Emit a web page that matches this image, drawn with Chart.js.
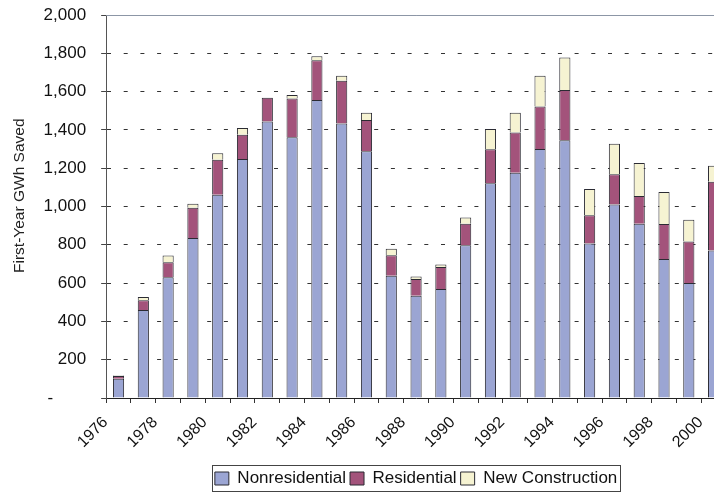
<!DOCTYPE html>
<html><head><meta charset="utf-8">
<script src="https://cdn.jsdelivr.net/npm/chart.js@4.4.1/dist/chart.umd.min.js"></script>
<style>
html,body{margin:0;padding:0;overflow:hidden;background:#fff;width:714px;height:493px}
#wrap{position:absolute;left:0;top:0;width:732px;height:493px}
</style></head><body>
<div id="wrap"><canvas id="c" width="732" height="493"></canvas></div>
<script>
const years = ['1976','1977','1978','1979','1980','1981','1982','1983','1984','1985','1986','1987','1988','1989','1990','1991','1992','1993','1994','1995','1996','1997','1998','1999','2000'];
const nonresidential = [100,459,630,835,1062,1248,1444,1362,1556,1433,1288,639,534,569,798,1122,1176,1300,1346,807,1010,910,726,601,770];
const residential = [15,52,79,159,182,127,124,202,208,224,164,106,87,115,112,177,210,222,262,147,158,145,182,216,359];
const newConstruction = [3,17,35,21,34,35,0,18,21,26,37,34,14,13,32,106,103,161,170,138,160,172,168,114,84];
const yTicks = [0,200,400,600,800,1000,1200,1400,1600,1800,2000];

Chart.defaults.font.family = "'Liberation Sans', Arial, Helvetica, sans-serif";

const topLine = {
  id: 'topLine',
  afterDraw(chart) {
    const {ctx, chartArea} = chart;
    const y = Math.round(chart.scales.y.getPixelForValue(2000)) + 0.5;
    ctx.save();
    ctx.strokeStyle = '#8c96a6';
    ctx.lineWidth = 1;
    ctx.beginPath();
    ctx.moveTo(chartArea.left, y);
    ctx.lineTo(chartArea.right, y);
    ctx.stroke();
    ctx.restore();
  }
};
const legendBorder = {
  id: 'legendBorder',
  afterDraw(chart) {
    const hb = chart.legend && chart.legend.legendHitBoxes;
    if (!hb || !hb.length) return;
    let l = Infinity, r = -Infinity, t = Infinity, b = -Infinity;
    hb.forEach(h => { l = Math.min(l, h.left); r = Math.max(r, h.left + h.width); t = Math.min(t, h.top); b = Math.max(b, h.top + h.height); });
    const ctx = chart.ctx;
    ctx.save();
    ctx.strokeStyle = '#444';
    ctx.lineWidth = 1;
    const top = Math.round(t - 5) + 0.5;
    ctx.strokeRect(Math.round(l - 3) + 0.5, top, Math.round(r - l + 6), 26);
    ctx.restore();
  }
};

new Chart(document.getElementById('c'), {
  type: 'bar',
  data: {
    labels: years,
    datasets: [
      {label: 'Nonresidential', data: nonresidential, backgroundColor: '#9ba5d3', borderColor: '#2b2b33', borderWidth: 1},
      {label: 'Residential', data: residential, backgroundColor: '#a3537b', borderColor: '#2b2b33', borderWidth: 1},
      {label: 'New Construction', data: newConstruction, backgroundColor: '#f6f3d2', borderColor: '#2b2b33', borderWidth: 1}
    ]
  },
  options: {
    responsive: false,
    animation: false,
    datasets: {bar: {categoryPercentage: 1, barPercentage: 0.45}},
    layout: {padding: {left: 8, right: 6, top: 15, bottom: -4}},
    plugins: {
      tooltip: {enabled: false},
      legend: {
        position: 'bottom', fullSize: false,
        labels: {boxWidth: 14, boxHeight: 13, padding: 4, color: '#111', font: {size: 17}}
      }
    },
    scales: {
      x: {
        stacked: true, offset: true,
        afterFit: (s) => { s.paddingLeft = 0; s.paddingRight = 0; s.height = 68; },
        grid: {display: true, drawOnChartArea: false, offset: true, tickLength: 5, tickColor: '#333', color: '#333'},
        border: {display: true, color: '#222', width: 1},
        ticks: {autoSkip: false, minRotation: 45, maxRotation: 45, padding: 10, labelOffset: -13, color: '#111', font: {size: 16},
          callback: (v, i) => (i % 2 === 0 ? years[i] : '')}
      },
      y: {
        stacked: true, min: 0, max: 2000,
        afterBuildTicks: (s) => { s.ticks = yTicks.map(v => ({value: v})); },
        afterFit: (s) => { s.paddingTop = 0; s.paddingBottom = 0; },
        grid: {color: (c) => (c.tick && c.tick.value === 2000 ? 'rgba(0,0,0,0)' : '#333'), lineWidth: 1, tickLength: 5, tickColor: '#444'},
        border: {display: true, color: '#555', width: 1, dash: [4, 12.7]},
        ticks: {padding: 15, color: '#111', font: {size: 17},
          callback: (v) => (v === 0 ? '-       ' : v.toLocaleString('en-US'))},
        title: {display: true, text: '     First-Year GWh Saved', color: '#222', font: {size: 15.5}, padding: {top: 2, bottom: 0}}
      }
    }
  },
  plugins: [topLine, legendBorder]
});
</script>
</body></html>
